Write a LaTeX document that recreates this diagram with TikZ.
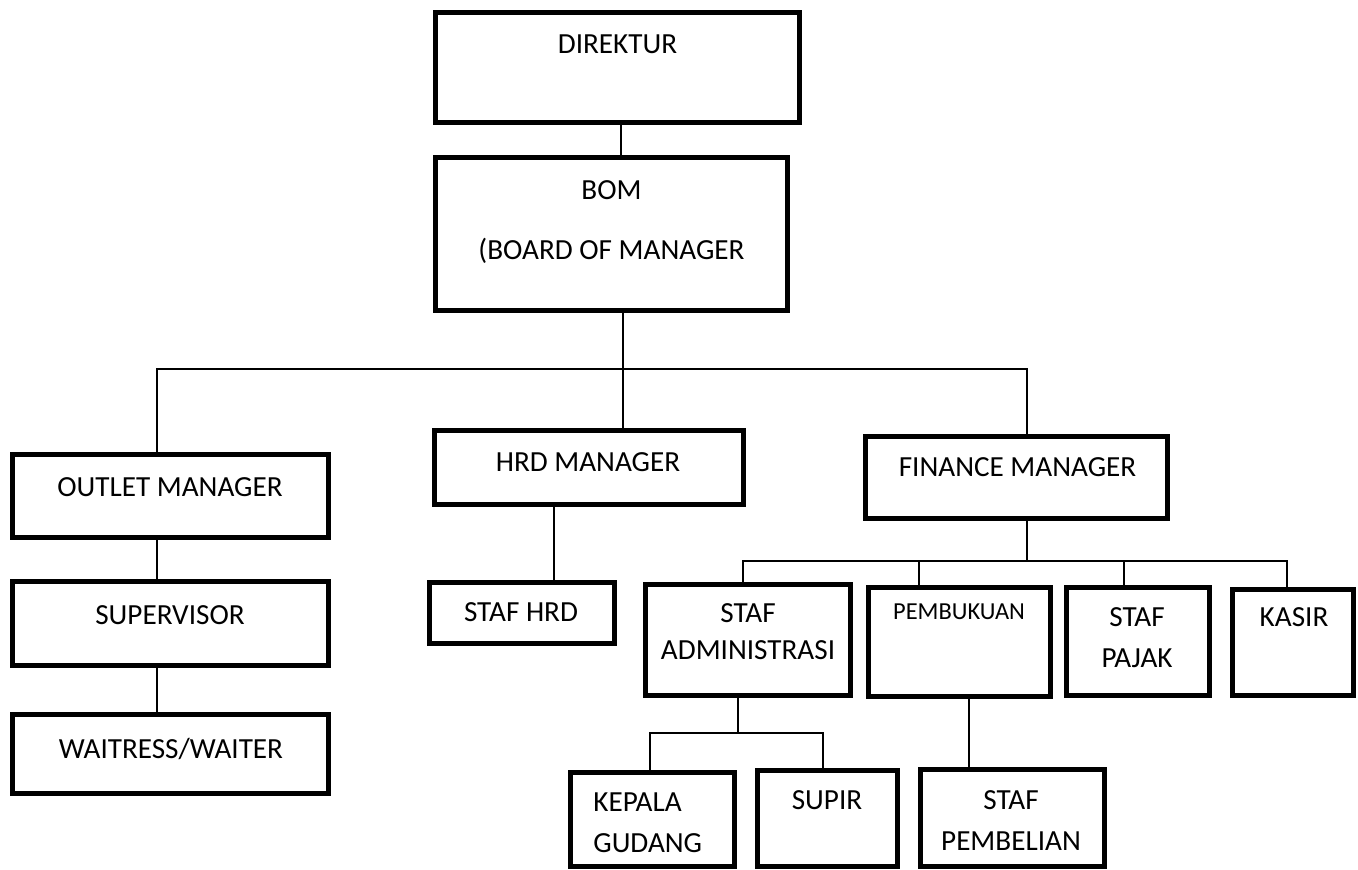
\documentclass[tikz,border=0pt]{standalone}
\usepackage{fontspec}
\setmainfont{Carlito}
\usetikzlibrary{positioning, calc}

\begin{document}
\begin{tikzpicture}[
      x=0.02cm, y=-0.02cm,
      box/.style 2 args={draw=black, line width=2.8pt, inner sep=0pt, outer sep=0pt, minimum width=#1, minimum height=#2},
      txt/.style={anchor=base, inner sep=0pt, align=center, font=\fontsize{16.6}{23.2}\selectfont},
      smalltxt/.style={txt, font=\fontsize{13.9}{16}\selectfont},
      link/.style={draw=black, line width=0.9pt}
    ]
      \useasboundingbox (0,0) rectangle (1358,869);

      % Top of the chart
      \node[box={7.28cm}{2.2cm}] (dir) at (617.5,67.5) {};
      \node[txt] (dir-txt) at (617.5,53) {DIREKTUR};
      \node[box={7.04cm}{3.06cm}] (bom) at (611.5,234) {};
      \node[txt] (bom-txt) at (611.5,259) {BOM\\[10.8pt](BOARD OF MANAGER};

      % Managers
      \node[box={6.32cm}{1.66cm}] (outlet) at (170.5,496) {};
      \node[txt] (outlet-txt) at (170,496) {OUTLET MANAGER};
      \node[box={6.18cm}{1.48cm}] (hrd) at (589,467.5) {};
      \node[txt] (hrd-txt) at (588,471) {HRD MANAGER};
      \node[box={6.04cm}{1.64cm}] (fin) at (1016.5,477.5) {};
      \node[txt] (fin-txt) at (1017.5,476) {FINANCE MANAGER};

      % Outlet column
      \node[box={6.32cm}{1.68cm}] (superv) at (170.5,623.5) {};
      \node[txt] (superv-txt) at (170,624) {SUPERVISOR};
      \node[box={6.32cm}{1.58cm}] (waiter) at (170.5,754) {};
      \node[txt] (waiter-txt) at (171,758) {WAITRESS/WAITER};

      % HRD staff
      \node[box={3.7cm}{1.22cm}] (stafhrd) at (522,613) {};
      \node[txt] (stafhrd-txt) at (521,621) {STAF HRD};

      % Finance staff
      \node[box={4.1cm}{2.22cm}] (admin) at (748,640) {};
      \node[txt] (admin-txt) at (748,659) {STAF\\[-2.2pt]ADMINISTRASI};
      \node[box={3.64cm}{2.18cm}] (pembuk) at (959.5,642) {};
      \node[smalltxt] (pembuk-txt) at (959,619.5) {PEMBUKUAN};
      \node[box={2.86cm}{2.16cm}] (pajak) at (1138,641.5) {};
      \node[txt] (pajak-txt) at (1137,667) {STAF\\PAJAK};
      \node[box={2.42cm}{2.12cm}] (kasir) at (1293,642.5) {};
      \node[txt] (kasir-txt) at (1294,626) {KASIR};

      % Bottom row
      \node[box={3.28cm}{1.88cm}] (kepala) at (652.5,819.5) {};
      \node[txt, anchor=base west, align=left] (kepala-txt) at (593,852) {KEPALA\\GUDANG};
      \node[box={2.8cm}{1.92cm}] (supir) at (827.5,818.5) {};
      \node[txt] (supir-txt) at (827,809) {SUPIR};
      \node[box={3.68cm}{1.94cm}] (pembel) at (1012.5,818) {};
      \node[txt] (pembel-txt) at (1011,850) {STAF\\PEMBELIAN};

      % Points where the lines run
      \coordinate (c-dir) at (621,0);
      \coordinate (c-bom) at (623,0);
      \coordinate (bus-l) at (157,369);
      \coordinate (bus-r) at (1027,369);
      \coordinate (c-hrd) at (554,0);
      \coordinate (fbus-l) at (743,561);
      \coordinate (fbus-r) at (1287,561);
      \coordinate (c-admin) at (738,733);
      \coordinate (abus-l) at (650,733);
      \coordinate (abus-r) at (823,733);
      \coordinate (c-pembuk) at (969,0);

      % Lines
      \draw[link] (dir.south -| c-dir) -- (bom.north -| c-dir);
      \draw[link] (bom.south -| c-bom) -- (hrd.north -| c-bom);
      \draw[link] (outlet.north -| bus-l) -- (bus-l) -- (bus-r) -- (fin.north -| bus-r);
      \draw[link] (outlet.south -| bus-l) -- (superv.north -| bus-l);
      \draw[link] (superv.south -| bus-l) -- (waiter.north -| bus-l);
      \draw[link] (hrd.south -| c-hrd) -- (stafhrd.north -| c-hrd);
      \draw[link] (fin.south -| bus-r) -- (bus-r |- fbus-l);
      \draw[link] (admin.north -| fbus-l) -- (fbus-l) -- (fbus-r) -- (kasir.north -| fbus-r);
      \foreach \n/\x in {pembuk/919, pajak/1124} {
        \coordinate (d-\n) at (\x,561);
        \draw[link] (d-\n) -- (\n.north -| d-\n);
      }
      \draw[link] (admin.south -| c-admin) -- (c-admin);
      \draw[link] (kepala.north -| abus-l) -- (abus-l) -- (abus-r) -- (supir.north -| abus-r);
      \draw[link] (pembuk.south -| c-pembuk) -- (pembel.north -| c-pembuk);
    \end{tikzpicture}
\end{document}
